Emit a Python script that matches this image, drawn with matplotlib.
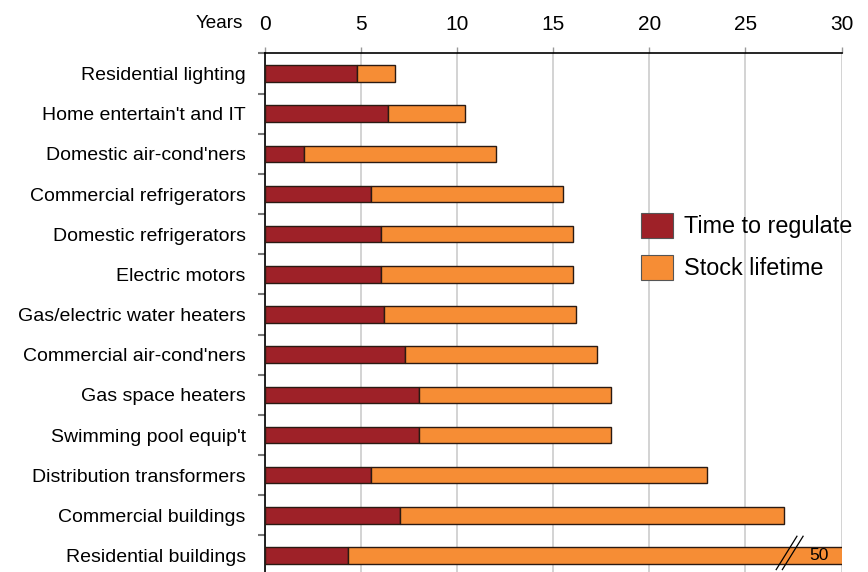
import numpy as np
import matplotlib.pyplot as plt
from matplotlib.ticker import MultipleLocator

plt.rcParams['font.family'] = ['Liberation Sans', 'DejaVu Sans']

# data (years)
categories = ["Residential lighting", "Home entertain't and IT", "Domestic air-cond'ners",
              "Commercial refrigerators", "Domestic refrigerators", "Electric motors",
              "Gas/electric water heaters", "Commercial air-cond'ners", "Gas space heaters",
              "Swimming pool equip't", "Distribution transformers", "Commercial buildings",
              "Residential buildings"]
time_to_regulate = [4.75, 6.4, 2.0, 5.5, 6.0, 6.0, 6.2, 7.25, 8.0, 8.0, 5.5, 7.0, 4.3]
total_years = [6.75, 10.4, 12.0, 15.5, 16.0, 16.0, 16.2, 17.25, 18.0, 18.0, 23.0, 27.0, 50.0]
stock_lifetime = [t - r for t, r in zip(total_years, time_to_regulate)]
broken_label = "50"

red = '#9E2128'
orange = '#F68D35'
edge = '#2B1A12'

fig = plt.figure(figsize=(8.68, 5.72), dpi=100)
ax = fig.add_axes([265.3 / 868, -0.0063, (841.5 - 265.3) / 868, 0.9065 + 0.0063])

y = np.arange(len(categories))
h = 0.41
ax.barh(y, time_to_regulate, height=h, color=red, edgecolor=edge, linewidth=1.0, zorder=3,
        label='Time to regulate')
ax.barh(y, stock_lifetime, left=time_to_regulate, height=h, color=orange, edgecolor=edge,
        linewidth=1.0, zorder=3, label='Stock lifetime')

ax.set_xlim(0, 30)
ax.set_ylim(len(categories) - 0.5, -0.5)

ax.xaxis.tick_top()
ax.xaxis.set_major_locator(MultipleLocator(5))
ax.tick_params(axis='x', which='major', length=4.5, width=1.0, color='#999999',
               pad=9.2, labelsize=15)
ax.grid(axis='x', color='#cccccc', linewidth=1.2, zorder=0)

ax.set_yticks(y)
ax.set_yticklabels(categories)
ax.set_yticks(np.arange(len(categories) + 1) - 0.5, minor=True)
ax.tick_params(axis='y', which='major', length=0, pad=14, labelsize=14)
ax.tick_params(axis='y', which='minor', length=5, width=1.5, color='#777777')

for s in ['right', 'bottom']:
    ax.spines[s].set_visible(False)
ax.spines['top'].set_linewidth(1.2)
ax.spines['left'].set_linewidth(1.2)

# "Years" level with the tick labels
ax.text(-0.038, 1.0 + 30 / 572 / 0.913, 'Years', transform=ax.transAxes,
        ha='right', va='center', fontsize=13.6)

# axis break on the last bar
last = len(categories) - 1
xmax = ax.get_xlim()[1]
for dx in [0.0, 0.32]:
    ax.plot([xmax - 3.4 + dx, xmax - 2.32 + dx], [last + 0.35, last - 0.48],
            color='black', linewidth=0.9, zorder=5, clip_on=False)
ax.text(xmax - 1.15, last, broken_label, ha='center', va='center', fontsize=12.5, zorder=6)

leg = ax.legend(loc='upper left', bbox_to_anchor=(641 / 868, 1 - 213 / 572),
                bbox_transform=fig.transFigure, frameon=False, fontsize=16.8,
                handlelength=1.38, handleheight=1.27, handletextpad=0.46,
                labelspacing=0.7, borderpad=0, borderaxespad=0)
for p in leg.get_patches():
    p.set_edgecolor('#555555')
    p.set_linewidth(0.8)

fig.savefig('out.png', dpi=100)
